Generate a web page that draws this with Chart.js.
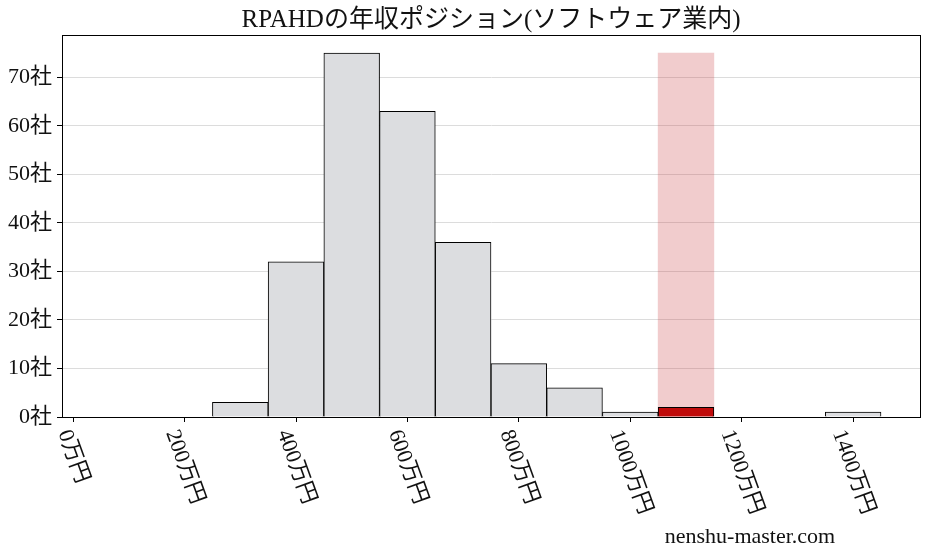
<!DOCTYPE html>
<html>
<head>
<meta charset="utf-8">
<script src="https://cdn.jsdelivr.net/npm/chart.js@4"></script>
<style>
  html, body { margin: 0; padding: 0; background: #fff; }
  #wrap { width: 927px; height: 557px; }
</style>
</head>
<body>
<div id="wrap"><canvas id="chart"></canvas></div>
<script>
// bin centres (万円), each bin 100万円 wide
const binCenters = [100, 200, 300, 400, 500, 600, 700, 800, 900, 1000, 1100, 1200, 1300, 1400];
const companyCounts = [0, 0, 3, 32, 75, 63, 36, 11, 6, 1, 2, 0, 0, 1];
const highlightBin = 1100;
const highlightHeight = 75;
const xTicks = [0, 200, 400, 600, 800, 1000, 1200, 1400];
const yTicks = [0, 10, 20, 30, 40, 50, 60, 70];
const titleText = 'RPAHDの年収ポジション(ソフトウェア業内)';
const watermark = 'nenshu-master.com';

const FONT = "'Liberation Serif', 'Noto Sans CJK JP', serif";

const framePlugin = {
  id: 'frame',
  afterDraw(chart) {
    const { ctx, chartArea: a, scales } = chart;
    ctx.save();
    ctx.strokeStyle = '#000';
    ctx.lineWidth = 1;
    ctx.strokeRect(Math.round(a.left) + 0.5, Math.round(a.top) + 0.5,
      Math.round(a.right - a.left), Math.round(a.bottom - a.top));

    // title centred over the plot area
    ctx.fillStyle = '#111';
    ctx.font = '25px ' + FONT;
    ctx.textAlign = 'center';
    ctx.textBaseline = 'middle';
    ctx.fillText(titleText, (a.left + a.right) / 2, 20);

    // rotated x tick labels (clockwise, centred under tick)
    ctx.font = '22px ' + FONT;
    const ang = 70 * Math.PI / 180;
    const top = a.bottom + 10;
    xTicks.forEach(v => {
      const label = v + '万円';
      const w = ctx.measureText(label).width;
      const h = 22;
      const cx = scales.x.getPixelForValue(v);
      const cy = top + (w * Math.sin(ang) + h * Math.cos(ang)) / 2;
      ctx.save();
      ctx.translate(cx, cy);
      ctx.rotate(ang);
      ctx.textAlign = 'center';
      ctx.textBaseline = 'middle';
      ctx.fillText(label, 0, 0);
      ctx.restore();
    });

    ctx.font = '22px ' + FONT;
    ctx.textAlign = 'center';
    ctx.textBaseline = 'middle';
    ctx.fillText(watermark, 750, 537);
    ctx.restore();
  }
};

new Chart(document.getElementById('chart'), {
  type: 'bar',
  data: {
    datasets: [
      {
        label: '企業数',
        data: binCenters.map((x, i) => ({ x: x, y: companyCounts[i] })),
        backgroundColor: binCenters.map(x => x === highlightBin ? '#c00b0b' : '#dcdde0'),
        borderColor: '#000',
        borderWidth: 1,
        barPercentage: 1,
        categoryPercentage: 1,
        order: 1
      },
      {
        label: 'highlight',
        data: [{ x: highlightBin, y: highlightHeight }],
        backgroundColor: 'rgba(200, 50, 55, 0.25)',
        borderWidth: 0,
        barPercentage: 1,
        categoryPercentage: 1,
        order: 2
      }
    ]
  },
  options: {
    responsive: true,
    maintainAspectRatio: false,
    animation: false,
    devicePixelRatio: 1,
    grouped: false,
    layout: { padding: { left: 0, right: 7, top: 35, bottom: 0 } },
    plugins: {
      legend: { display: false },
      tooltip: { enabled: false },
      title: { display: false }
    },
    scales: {
      x: {
        type: 'linear',
        offset: false,
        min: -20,
        max: 1520,
        afterBuildTicks: s => { s.ticks = xTicks.map(v => ({ value: v })); },
        afterFit: s => { s.height = 140; },
        ticks: { display: false },
        grid: { offset: false, drawOnChartArea: false, tickColor: '#000', tickLength: 5, drawTicks: true },
        border: { display: true, color: '#000', width: 1 }
      },
      y: {
        min: 0,
        max: 78.75,
        afterBuildTicks: s => { s.ticks = yTicks.map(v => ({ value: v })); },
        afterFit: s => { s.width = 62; },
        ticks: {
          color: '#111',
          padding: 5,
          font: { family: FONT, size: 22 },
          callback: v => v + '社'
        },
        grid: { color: '#dcdcdc', tickColor: '#000', tickLength: 5 },
        border: { display: true, color: '#000', width: 1 }
      }
    }
  },
  plugins: [framePlugin]
});
</script>
</body>
</html>
